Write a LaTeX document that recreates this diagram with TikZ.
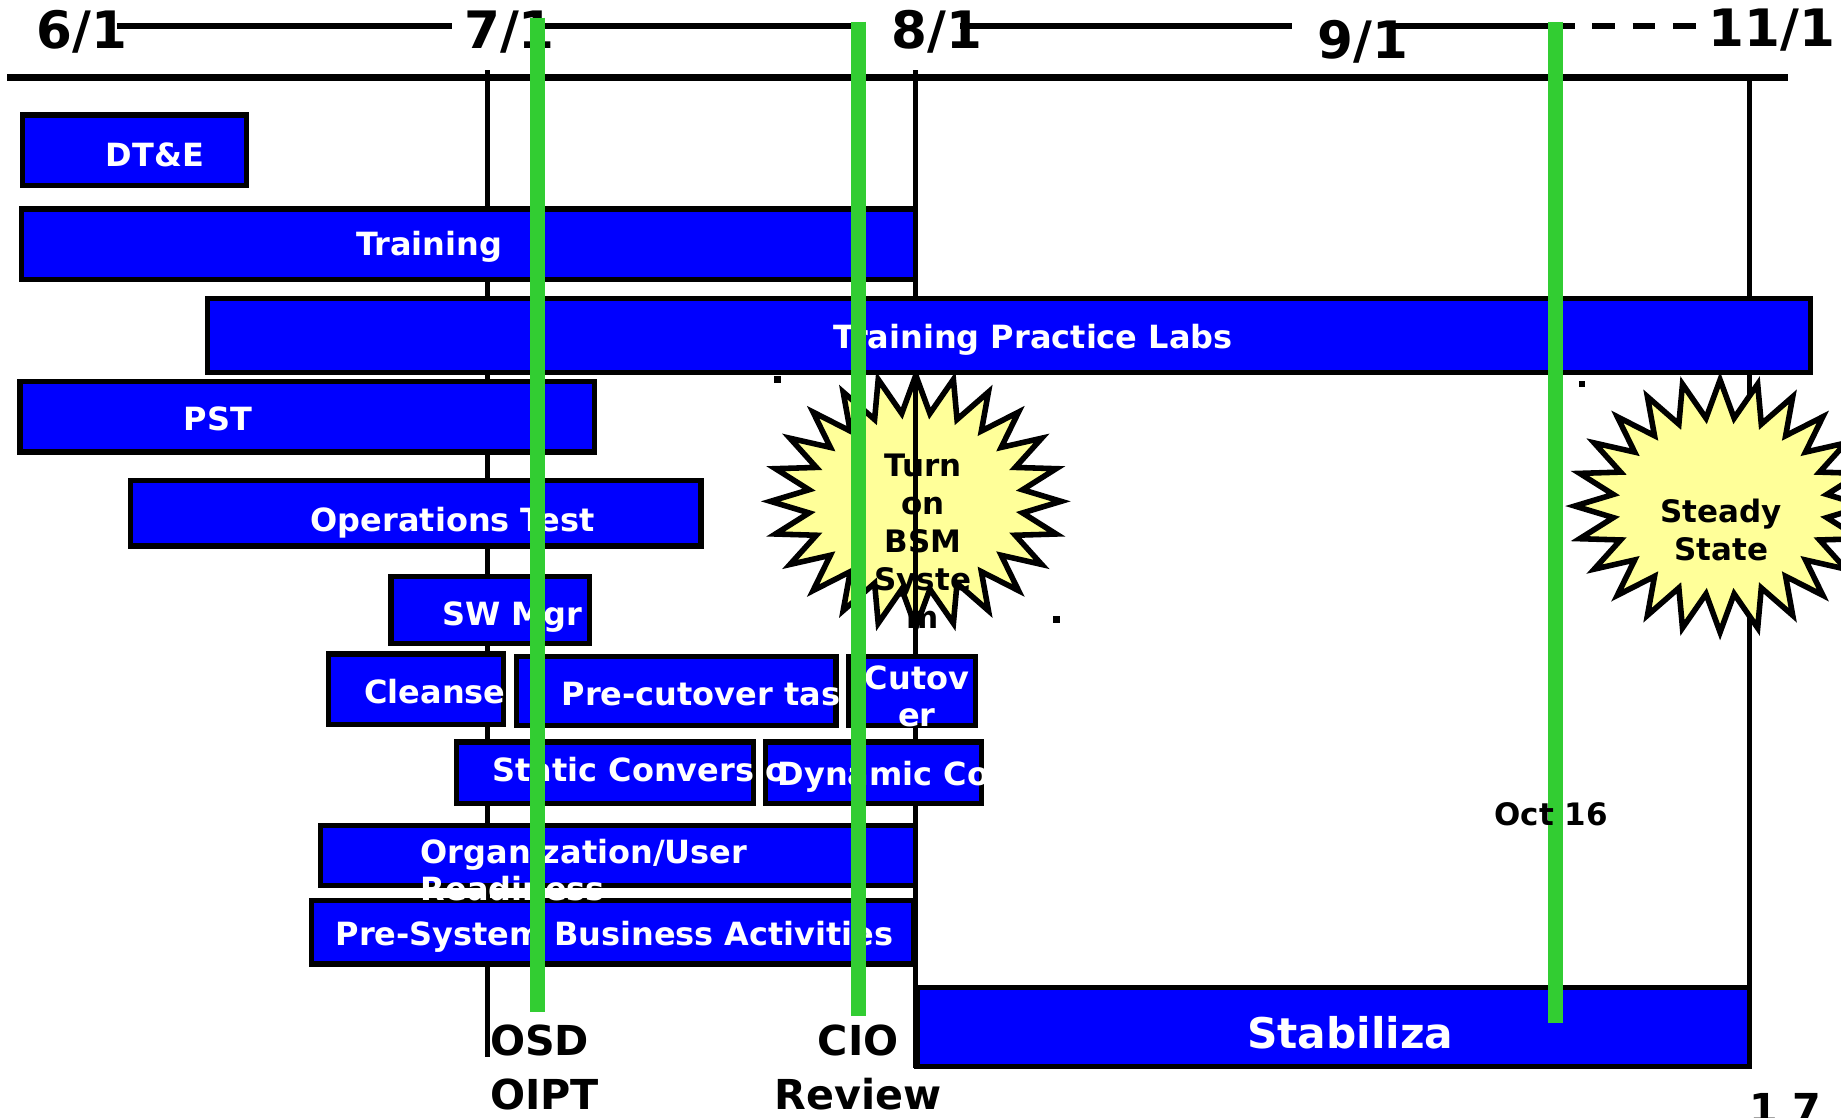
\documentclass[tikz,border=0pt]{standalone}
\usepackage{fontspec}
\setmainfont{DejaVu Sans}
\usetikzlibrary{shapes.symbols}
\definecolor{barblue}{RGB}{0,0,255}
\definecolor{msgreen}{RGB}{50,205,50}
\definecolor{burstyellow}{RGB}{255,255,153}

\begin{document}
\begin{tikzpicture}[x=0.02cm, y=-0.02cm,
    bar/.style={draw, fill=barblue, line width=2.5pt},
    bartext/.style={text=white, font=\bfseries\fontsize{15.5}{18}\selectfont, inner sep=0pt, text height=11.3pt, text depth=0pt},
    bartwo/.style={text=white, font=\bfseries\fontsize{15.5}{18.2}\selectfont, inner sep=0pt},
    datelabel/.style={font=\bfseries\fontsize{25}{30}\selectfont, inner sep=0pt, text height=18.2pt, text depth=0pt},
    tick/.style={line width=2.5pt},
    ms/.style={draw=msgreen, line width=7.1pt},
    mslabel/.style={font=\bfseries\fontsize{20}{26}\selectfont, inner sep=0pt},
    burst/.style={starburst, starburst points=24, starburst point height=0.64cm, random starburst=0, draw, fill=burstyellow, line width=2.7pt, minimum width=4.95cm, minimum height=4.3cm, inner sep=0pt},
    bursttext/.style={font=\bfseries\fontsize{15}{18.4}\selectfont, inner sep=0pt, align=center},
    speck/.style={fill=black}]

    \useasboundingbox (0,0) rectangle (1568,952);
    \clip (0,0) rectangle (1568,952);

    % go-live burst sits under the 8/1 line
    \node [burst] (bsm) at (780,427) {};

    % time axis
    \draw [line width=3.7pt] (6,66) -- (1523,66);
    \node [datelabel] (jun) at (70,25) {6/1};
    \node [datelabel] (jul) at (434,25) {7/1};
    \node [datelabel] (aug) at (798,25) {8/1};
    \node [datelabel] (sep) at (1161,34) {9/1};
    \node [datelabel] (nov) at (1509,24) {11/1};
    \draw [line width=2.9pt] (100,22.5) -- (385,22.5);
    \draw [line width=2.9pt] (455,22.5) -- (733,22.5);
    \draw [line width=2.9pt] (818,22.5) -- (1100,22.5);
    \draw [line width=2.9pt] (1185,22.5) -- (1322,22.5);
    \draw [line width=2.9pt, dash pattern=on 11pt off 8.5pt] (1322,22.5) -- (1452,22.5);

    \draw [tick] (415,60) -- (415,900);
    \draw [tick] (780,60) -- (780,910);
    \draw [tick] (1490,66) -- (1490,908);

    % task bars
    \draw [bar] (19,98) rectangle (210,158);
    \node [bartext] (dte) at (132,132) {DT\&E};
    \draw [bar] (18,178) rectangle (780,238);
    \node [bartext] (training) at (365.5,208) {Training};
    \draw [bar] (177,254) rectangle (1542,317);
    \node [bartext] (labs) at (880,287) {Training Practice Labs};
    \draw [bar] (17,325) rectangle (506,385);
    \node [bartext] (pst) at (185.5,357) {PST};
    \draw [bar] (111,409) rectangle (597,465);
    \node [bartext] (optest) at (385.5,443) {Operations Test};
    \draw [bar] (333,491) rectangle (502,548);
    \node [bartext] (swmgr) at (436.5,523) {SW Mgr};
    \draw [bar] (280,557) rectangle (429,617);
    \node [bartext] (cleanse) at (370.5,589) {Cleanse};
    \draw [bar] (440,559) rectangle (712,618);
    \node [bartext] (precut) at (597,591) {Pre-cutover tas};
    \draw [bar] (723,559) rectangle (831,618);
    \node [bartwo, align=center] (cutover) at (781,593) {Cutov\\er};
    \draw [bar] (389,632) rectangle (642,684);
    \draw [bar] (652,632) rectangle (836,684);
    \node [bartext, anchor=west] (static) at (419,656) {Static Conversio};
    \node [bartext, anchor=west] (dynamic) at (662,659) {Dynamic Co};
    \draw [bar] (273,703) rectangle (780,754);
    \draw [bar] (265,767) rectangle (778,821);
    \node [bartext] (presys) at (523.5,795.6) {Pre-System Business Activities};
    \node [bartwo, align=left, anchor=west] (orgready) at (358,741) {Organization/User\\Readiness};
    \draw [bar] (781,841) rectangle (1490,908);
    \node [bartext, font=\bfseries\fontsize{20.5}{24}\selectfont, text height=15pt] (stab) at (1150,880) {Stabiliza};

    \node [burst] (steady) at (1465,431) {};
    \node [bursttext] (steadytext) at (1466,451) {Steady\\State};
    \node [bursttext] (bsmtext) at (786,461) {Turn\\on\\BSM\\Syste\\m};

    \fill [speck] (659.5,320.5) rectangle (665,326);
    \fill [speck] (897,525) rectangle (902.5,530.5);
    \fill [speck] (1344.5,324.5) rectangle (1350,330);

    % milestones
    \draw [ms] (458,15) -- (458,862);
    \draw [ms] (731,18.5) -- (731,865);
    \draw [ms] (1325,18.5) -- (1325,871);
    \node [mslabel, align=left, anchor=west] (osd) at (417,909) {OSD\\OIPT};
    \node [mslabel, align=center] (cio) at (731,909) {CIO\\Review};
    \node [bartext, text=black, font=\bfseries\fontsize{15}{18}\selectfont, text height=11pt] (oct) at (1321,693) {Oct 16};
    \node [mslabel, anchor=base west] (pageno) at (1490,957) {1 7};
\end{tikzpicture}
\end{document}
